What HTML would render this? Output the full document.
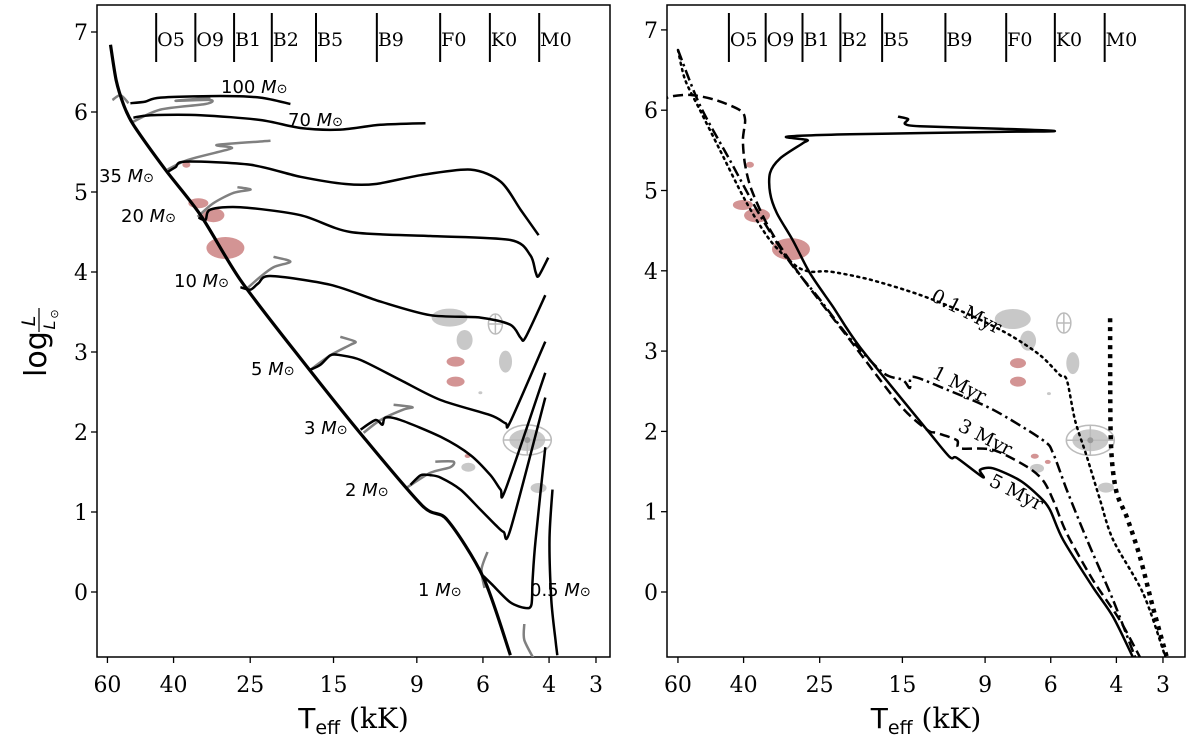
<!DOCTYPE html>
<html><head><meta charset="utf-8"><style>
body{margin:0;background:#fff;}
svg text{font-family:"DejaVu Serif","Liberation Serif",serif;}
.sans{font-family:"DejaVu Sans","Liberation Sans",sans-serif;}
</style></head><body>
<svg id="chart" width="1200" height="743" viewBox="0 0 1200 743" xmlns="http://www.w3.org/2000/svg">
<defs>
<clipPath id="clipL"><rect x="97" y="5" width="513" height="652"/></clipPath>
<clipPath id="clipR"><rect x="667" y="5" width="518" height="652"/></clipPath>
</defs>
<g id="gL"></g>
<g id="gR"></g>
<g transform="translate(46,335) rotate(-90)">
<text x="-42" y="0" font-size="30" class="sans">log</text>
<text x="14" y="-11" font-size="19" class="sans" font-style="italic" text-anchor="middle">L</text>
<line x1="3" x2="27" y1="-7" y2="-7" stroke="#000" stroke-width="1.2"/>
<text x="10" y="9" font-size="16" class="sans" font-style="italic" text-anchor="middle">L</text>
<text x="21" y="12" font-size="11" class="sans" text-anchor="middle">⊙</text>
</g>
</svg>
<script>
const xTicks = [60, 40, 25, 15, 9, 6, 4, 3];
const yTicks = [0, 1, 2, 3, 4, 5, 6, 7];
const spTypes = ["O5","O9","B1","B2","B5","B9","F0","K0","M0"];
const spTeffL = [44.5, 35.0, 27.6, 21.9, 16.7, 11.5, 7.8, 5.75, 4.25];
const spTeffR = [43.8, 34.9, 27.8, 22.0, 17.0, 11.5, 7.9, 5.85, 4.3];

const zams = [[1.770,6.84],[1.755,6.40],[1.735,6.09],[1.709,5.84],[1.624,5.28],[1.530,4.71],[1.424,3.90],[1.264,2.92],[1.104,1.98],[0.940,1.08],[0.873,0.90],[0.777,0.18],[0.705,-0.79]];
const trackNames = ["100","70","35","20","10","5","3","2","1","0.5"];
const trk100 = [[1.717,6.11],[1.677,6.13],[1.637,6.18],[1.477,6.20],[1.371,6.18],[1.291,6.10]];
const trk70 = [[1.709,5.93],[1.663,5.96],[1.530,5.96],[1.371,5.90],[1.264,5.80],[1.158,5.78],[1.051,5.84],[0.931,5.86]];
const trk35 = [[1.618,5.25],[1.597,5.31],[1.570,5.38],[1.397,5.34],[1.264,5.19],[1.144,5.10],[1.064,5.10],[0.944,5.21],[0.811,5.28],[0.731,5.13],[0.678,4.78],[0.630,4.46]];
const trk20 = [[1.536,4.68],[1.517,4.65],[1.504,4.78],[1.424,4.81],[1.264,4.71],[1.131,4.50],[0.918,4.45],[0.705,4.40],[0.652,4.21],[0.638,4.00],[0.630,3.95],[0.604,4.18]];
const trk10 = [[1.424,3.81],[1.397,3.78],[1.376,3.86],[1.344,3.95],[1.184,3.84],[1.051,3.63],[0.918,3.46],[0.785,3.43],[0.705,3.34],[0.678,3.18],[0.665,3.18],[0.612,3.71]];
const trk5 = [[1.237,2.78],[1.211,2.84],[1.184,2.96],[1.158,2.96],[1.104,2.90],[0.998,2.65],[0.891,2.40],[0.758,2.21],[0.718,2.11],[0.705,2.13],[0.612,3.13]];
const trk3 = [[1.104,2.03],[1.064,2.15],[1.046,2.09],[1.038,2.18],[0.998,2.15],[0.891,1.94],[0.811,1.71],[0.758,1.46],[0.731,1.28],[0.718,1.28],[0.612,2.74]];
const trk2 = [[0.971,1.34],[0.944,1.46],[0.918,1.46],[0.891,1.43],[0.838,1.28],[0.785,1.03],[0.745,0.84],[0.723,0.75],[0.705,0.78],[0.612,2.43]];
const trk1 = [[0.777,0.20],[0.753,0.09],[0.705,-0.13],[0.665,-0.20],[0.649,-0.16],[0.646,0.15],[0.638,0.65],[0.612,1.81]];
const trk05 = [[0.593,1.28],[0.601,0.65],[0.596,-0.10],[0.585,-0.60],[0.580,-0.79]];
const rot100 = [[1.765,6.15],[1.743,6.21],[1.722,6.11]];
const rot70 = [[1.709,5.88],[1.637,6.03],[1.517,6.10],[1.504,6.15],[1.597,6.14],[1.504,6.18]];
const rot35 = [[1.618,5.28],[1.565,5.40],[1.458,5.53],[1.450,5.56],[1.485,5.59],[1.344,5.64]];
const rot20 = [[1.538,4.69],[1.496,4.86],[1.442,4.99],[1.397,5.03],[1.432,5.06]];
const rot10 = [[1.405,3.80],[1.371,3.94],[1.336,4.06],[1.291,4.13],[1.336,4.19]];
const rot5 = [[1.237,2.78],[1.184,2.96],[1.131,3.09],[1.118,3.13],[1.158,3.19]];
const rot3 = [[1.096,1.99],[1.051,2.15],[0.990,2.28],[0.966,2.31],[1.016,2.34]];
const rot2 = [[0.979,1.31],[0.918,1.49],[0.865,1.56],[0.857,1.63],[0.905,1.63]];
const rot1 = [[0.766,0.50],[0.782,0.28],[0.774,0.05]];
const rotLow = [[0.668,-0.40],[0.668,-0.60],[0.641,-0.85]];

const iso01 = [[1.778,6.75],[1.759,6.38],[1.719,6.00],[1.665,5.50],[1.598,4.88],[1.531,4.38],[1.464,4.07],[1.424,3.99],[1.370,3.99],[1.263,3.89],[1.129,3.70],[0.995,3.45],[0.888,3.20],[0.807,2.95],[0.753,2.70],[0.735,2.64],[0.713,2.14],[0.681,1.68],[0.646,1.15],[0.611,0.65],[0.531,-0.01],[0.477,-0.72],[0.470,-0.85]];
const isoThick = [[0.619,3.41],[0.617,1.89],[0.603,1.27],[0.574,0.93],[0.539,0.44],[0.504,-0.19],[0.467,-0.81]];
const iso1 = [[1.778,6.75],[1.719,6.06],[1.639,5.38],[1.558,4.69],[1.478,4.11],[1.397,3.64],[1.317,3.16],[1.228,2.73],[1.175,2.64],[1.156,2.54],[1.148,2.68],[1.057,2.52],[0.933,2.27],[0.799,1.89],[0.772,1.73],[0.735,1.27],[0.681,0.65],[0.611,-0.10],[0.552,-0.81]];
const iso3 = [[1.818,6.06],[1.805,6.16],[1.746,6.19],[1.679,6.13],[1.612,6.00],[1.598,5.88],[1.604,5.63],[1.598,5.32],[1.580,5.00],[1.531,4.51],[1.451,3.95],[1.317,3.14],[1.183,2.33],[1.110,2.02],[1.083,1.98],[1.030,1.89],[1.022,1.79],[0.933,1.77],[0.842,1.56],[0.799,1.39],[0.772,1.15],[0.735,0.73],[0.665,0.15],[0.593,-0.35],[0.539,-0.81]];
const iso5 = [[1.188,5.92],[1.161,5.89],[1.169,5.83],[1.129,5.80],[0.914,5.77],[0.767,5.74],[0.914,5.73],[1.317,5.70],[1.486,5.67],[1.432,5.63],[1.443,5.59],[1.504,5.40],[1.531,5.22],[1.531,4.97],[1.513,4.72],[1.470,4.38],[1.424,3.97],[1.362,3.55],[1.290,3.05],[1.110,2.02],[1.049,1.68],[1.030,1.67],[0.960,1.43],[0.968,1.52],[0.933,1.54],[0.861,1.39],[0.807,1.18],[0.780,1.02],[0.745,0.65],[0.665,0.06],[0.611,-0.31],[0.558,-0.81]];

const redL = [[1.568,5.34,4,3],[1.536,4.86,10,5],[1.496,4.71,11,7],[1.464,4.30,19,11],[0.851,2.88,9,5],[0.851,2.63,9,5],[0.819,1.70,3,2]];
const redR = [[1.585,5.32,4,3],[1.604,4.82,10,5],[1.566,4.69,13,7],[1.475,4.27,19,11],[0.866,2.85,8,5],[0.866,2.62,8,5],[0.821,1.69,4,2.5],[0.786,1.62,3,2]];
const grayL = [[0.867,3.43,18,9],[0.827,3.15,8,10],[0.718,2.88,6.5,11],[0.660,1.90,18,11],[0.630,1.30,8,5],[0.817,1.56,7,4.5],[0.785,2.49,2,1.5]];
const grayR = [[0.880,3.40,18,10],[0.839,3.13,8,10],[0.719,2.85,6.5,11],[0.672,1.89,18,11],[0.630,1.30,8,5],[0.815,1.54,7,4.5],[0.783,2.47,2,1.5]];
const crossL = [[0.745,3.35],[0.660,1.90]];
const crossR = [[0.743,3.35],[0.672,1.89]];

const NS="http://www.w3.org/2000/svg";
function el(tag,attrs,parent){const e=document.createElementNS(NS,tag);for(const k in attrs)e.setAttribute(k,attrs[k]);parent.appendChild(e);return e;}

function smoothPath(pts){
  let d='M'+pts[0][0].toFixed(1)+','+pts[0][1].toFixed(1);
  for(let i=0;i<pts.length-1;i++){
    const p0=pts[Math.max(0,i-1)],p1=pts[i],p2=pts[i+1],p3=pts[Math.min(pts.length-1,i+2)];
    const k=1/7;
    const c1=[p1[0]+(p2[0]-p0[0])*k,p1[1]+(p2[1]-p0[1])*k];
    const c2=[p2[0]-(p3[0]-p1[0])*k,p2[1]-(p3[1]-p1[1])*k];
    d+=` C${c1[0].toFixed(1)},${c1[1].toFixed(1)} ${c2[0].toFixed(1)},${c2[1].toFixed(1)} ${p2[0].toFixed(1)},${p2[1].toFixed(1)}`;
  }
  return d;
}

function makePanel(g,P){
  const X=lt=>P.x0+(1.778-lt)*P.sx;
  const Y=l=>592-P.sy*l;
  const fr=el('rect',{x:P.left,y:5,width:P.right-P.left,height:652,fill:'none',stroke:'#000','stroke-width':1.5},g);
  
  
  const plot=el('g',{'clip-path':`url(#${P.clip})`},g);
  function line(data,name,opts){
    const d=smoothPath(data.map(p=>[X(p[0]),Y(p[1])]));
    const p=el('path',Object.assign({d:d,fill:'none',stroke:'#000','stroke-width':2.5,'stroke-linejoin':'round'},opts),plot);
    
    
  }
  P.ells(plot,X,Y);
  P.lines(line);
  xTicks.forEach(t=>{const x=X(Math.log10(t));
    el('line',{x1:x,x2:x,y1:657,y2:663,stroke:'#000','stroke-width':1.3},g);
    const tx=el('text',{x:x,y:692,'font-size':22,'text-anchor':'middle'},g);tx.textContent=t;
    
    });
  yTicks.forEach(t=>{const y=Y(t);
    el('line',{x1:P.left-6,x2:P.left,y1:y,y2:y,stroke:'#000','stroke-width':1.3},g);
    const tx=el('text',{x:P.left-9,y:y+8,'font-size':22,'text-anchor':'end'},g);tx.textContent=t;
    
    });
  const xt=el('text',{x:(P.left+P.right)/2,y:728,'font-size':28,'text-anchor':'middle'},g);
  
  
  xt.innerHTML='<tspan class="sans">T</tspan><tspan class="sans" font-size="19" dy="6">eff</tspan><tspan dy="-6"> (kK)</tspan>';
  spTypes.forEach((s,i)=>{const x=X(Math.log10(P.sp[i]));
    const l=el('line',{x1:x,x2:x,y1:13,y2:62,stroke:'#000','stroke-width':2},g);
    
    
    const tx=el('text',{x:x+1,y:46,'font-size':19},g);tx.textContent=s;
    
    });
  return {X,Y,plot};
}

function ells(red,gray,cross){return function(plot,X,Y){
  gray.forEach(e=>{const c=el('ellipse',{cx:X(e[0]),cy:Y(e[1]),rx:e[2],ry:e[3],fill:'#c8c8c8'},plot);
    
    });
  red.forEach(e=>{const c=el('ellipse',{cx:X(e[0]),cy:Y(e[1]),rx:e[2],ry:e[3],fill:'#d39494'},plot);
    
    });
  cross.forEach((e,i)=>{const cx=X(e[0]),cy=Y(e[1]);const rx=i?24:7,ry=i?15:10;
    el('ellipse',{cx,cy,rx,ry,fill:'none',stroke:'#bbb','stroke-width':1.5},plot);
    el('line',{x1:cx-rx,x2:cx+rx,y1:cy,y2:cy,stroke:'#bbb','stroke-width':1.5},plot);
    el('line',{x1:cx,x2:cx,y1:cy-ry,y2:cy+ry,stroke:'#bbb','stroke-width':1.5},plot);
    if(i) el('circle',{cx,cy,r:3,fill:'#999'},plot);});
};}

makePanel(document.getElementById('gL'),{x0:107.5,sx:375.5,sy:80,left:97,right:610,clip:'clipL',sp:spTeffL,
  ells:ells(redL,grayL,crossL),
  lines:line=>{
    [rot100,rot70,rot35,rot20,rot10,rot5,rot3,rot2,rot1,rotLow].forEach(r=>line(r,'rotating-track',{stroke:'#808080','stroke-width':2.5}));
    line(zams,'zams-line',{'stroke-width':3.2});
    [trk100,trk70,trk35,trk20,trk10,trk5,trk3,trk2,trk1,trk05].forEach((t,i)=>line(t,'track-'+trackNames[i]+'-msun',{}));
  }});
makePanel(document.getElementById('gR'),{x0:678,sx:372.8,sy:80.3,left:667,right:1185,clip:'clipR',sp:spTeffR,
  ells:ells(redR,grayR,crossR),
  lines:line=>{
    line(iso01,'isochrone-0.1-myr',{'stroke-dasharray':'2 4.5','stroke-linecap':'round'});
    line(isoThick,'isochrone-thick-dotted',{'stroke-width':4.5,'stroke-dasharray':'4 5'});
    line(iso1,'isochrone-1-myr',{'stroke-dasharray':'11 4 2.5 4'});
    line(iso3,'isochrone-3-myr',{'stroke-dasharray':'10 5'});
    line(iso5,'isochrone-5-myr',{});
  }});

function label(g,x,y,html,name){
  const t=el('text',{x,y,'font-size':18,class:'sans'},g);
  t.innerHTML=html;
  
  
}
const gl=document.getElementById('gL');
const M=n=>`${n} <tspan font-style="italic">M</tspan><tspan font-size="13">⊙</tspan>`;
[[221,93,'100'],[288,126,'70'],[99,182,'35'],[121,222,'20'],[174,287,'10'],[251,375,'5'],[304,434,'3'],[345,496,'2'],[418,596,'1'],[530,596,'0.5']].forEach(a=>label(gl,a[0],a[1],M(a[2]),'mass-label'));
const gr=document.getElementById('gR');
[[930,300,'0.1 Myr'],[931,377,'1 Myr'],[957,430,'3 Myr'],[988,485,'5 Myr']].forEach(a=>{
  const t=el('text',{x:a[0],y:a[1],'font-size':19,transform:`rotate(27 ${a[0]} ${a[1]})`},gr);t.textContent=a[2];
  
  });
</script>
</body></html>
